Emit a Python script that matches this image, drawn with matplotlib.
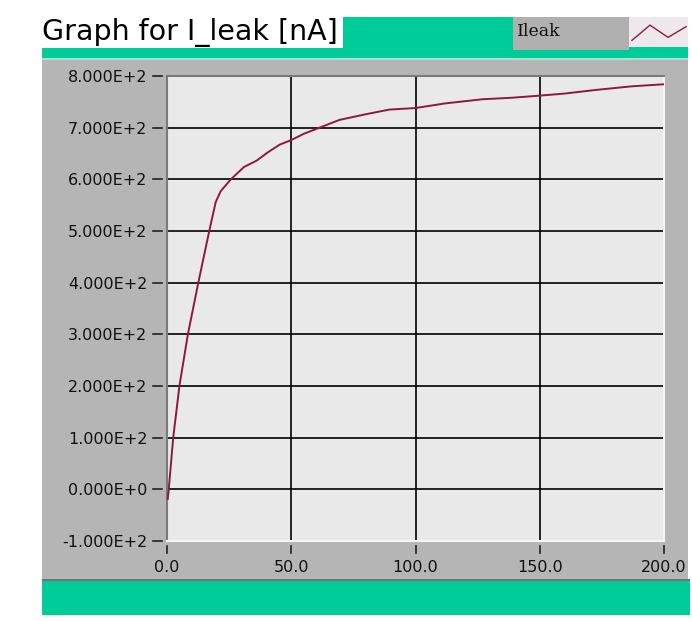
import matplotlib
matplotlib.use("Agg")
import matplotlib.pyplot as plt
from matplotlib.patches import Rectangle

# ---------------- data ----------------
title_text = "Graph for I_leak [nA]"
legend_label = "Ileak"
x_vals = [0.3, 0.7, 2.5, 5.0, 8.4, 12.6, 17.0, 19.6, 21.6, 25.7, 31.0, 36.0, 40.5,
          45.3, 50.0, 55.0, 61.4, 69.4, 80.0, 89.5, 100.0, 112.0, 127.0, 139.0,
          150.0, 160.0, 172.5, 187.0, 200.0]
y_vals = [-19, 0, 100, 200, 300, 400, 500, 556, 577, 600, 624, 636, 652,
          667, 676, 688, 700, 715, 726, 735, 738, 747, 755, 758,
          762, 766, 773, 780, 784]
x_ticks = [0, 50, 100, 150, 200]
x_tick_labels = ["0.0", "50.0", "100.0", "150.0", "200.0"]
y_ticks = [-100, 0, 100, 200, 300, 400, 500, 600, 700, 800]
y_tick_labels = ["-1.000E+2", "0.000E+0", "1.000E+2", "2.000E+2", "3.000E+2",
                 "4.000E+2", "5.000E+2", "6.000E+2", "7.000E+2", "8.000E+2"]
legend_pattern = [0, 1, 0.2, 0.9]

# ---------------- styles ----------------
W, H = 692, 621
GREEN = "#00cc99"
PANEL = "#b5b5b5"
PLOTBG = "#e9e9e9"
CURVE = "#8a1a40"

fig = plt.figure(figsize=(W / 100, H / 100), dpi=100)
fig.patch.set_facecolor("white")


def rect(x0, y0, x1, y1, color, z=0):
    fig.add_artist(Rectangle((x0 / W, 1 - y1 / H), (x1 - x0) / W, (y1 - y0) / H,
                             transform=fig.transFigure, facecolor=color,
                             edgecolor="none", zorder=z))


# panel background
rect(42, 58, 688, 580, PANEL)
# top green bars
rect(343, 17, 688, 58, GREEN)
rect(42, 48, 688, 58, GREEN)
rect(42, 58, 688, 60, "#a8e2d2")
# legend box
rect(513, 17, 629, 50, "#b0b0b0", 1)
rect(629, 17, 688, 47, "#eee8ec", 1)
# bottom green
rect(42, 579, 690, 581, "#707070")
rect(42, 581, 690, 615, GREEN)

# title
fig.text(42 / W, 1 - 40 / H, title_text, fontsize=20.5, family="DejaVu Sans",
         color="black", ha="left", va="baseline")
# legend label
fig.text(517 / W, 1 - 36 / H, legend_label, fontsize=12.5, family="DejaVu Serif",
         color="#111111", ha="left", va="baseline", zorder=3)
# legend swatch
sw = fig.add_axes([631 / W, 1 - 45 / H, 56 / W, 26 / H])
sw.set_zorder(5)
sw.plot(range(len(legend_pattern)), legend_pattern, color=CURVE, lw=1.0)
sw.set_xlim(-0.05, len(legend_pattern) - 0.95)
sw.set_ylim(-0.3, 1.4)
sw.axis("off")

# main plot
L, R, T, B = 167, 664, 76, 541
ax = fig.add_axes([L / W, 1 - B / H, (R - L) / W, (B - T) / H])
ax.set_facecolor(PLOTBG)
ax.plot(x_vals, y_vals, color=CURVE, lw=1.4, zorder=3)
ax.set_xlim(0, 200)
ax.set_ylim(-100, 800)
ax.set_xticks(x_ticks)
ax.set_xticklabels(x_tick_labels)
ax.set_yticks(y_ticks)
ax.set_yticklabels(y_tick_labels)
ax.tick_params(axis="both", length=0, labelsize=11.5, colors="#111111")
ax.tick_params(axis="y", pad=14)
ax.tick_params(axis="x", pad=14)
ax.set_axisbelow(True)
ax.grid(True, color="black", lw=1.2)
for s in ["left", "top"]:
    ax.spines[s].set_color("#7a7a7a")
    ax.spines[s].set_linewidth(1.5)
for s in ["right", "bottom"]:
    ax.spines[s].set_color("#f6f6f6")
    ax.spines[s].set_linewidth(1.5)

# tick marks with gap
ytr = ax.get_yaxis_transform()
for v in y_ticks:
    ax.plot([(153 - L) / (R - L), (162 - L) / (R - L)], [v, v], color="#222222",
            lw=1.2, transform=ytr, clip_on=False)
xtr = ax.get_xaxis_transform()
for v in x_ticks:
    ax.plot([v, v], [-(546 - B) / (B - T), -(553 - B) / (B - T)], color="#222222",
            lw=1.2, transform=xtr, clip_on=False)

fig.savefig("out.png", dpi=100)
